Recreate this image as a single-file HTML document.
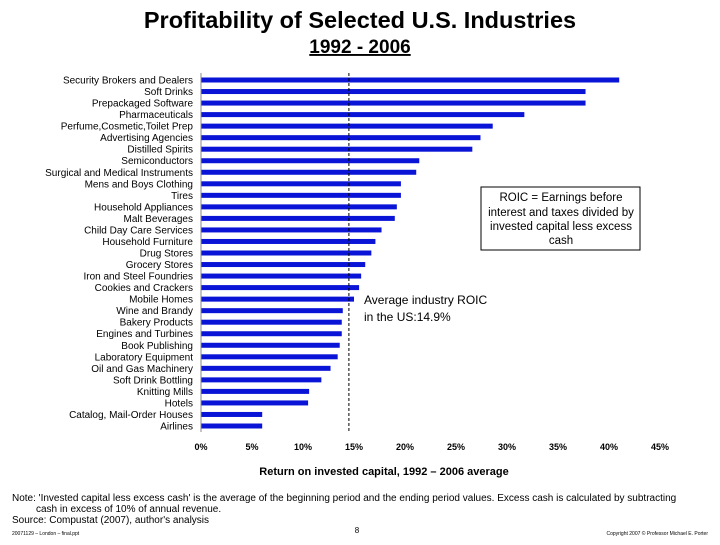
<!DOCTYPE html>
<html><head><meta charset="utf-8"><style>
body{margin:0;background:#fff;width:720px;height:540px;overflow:hidden;font-family:"Liberation Sans",sans-serif}
</style></head><body>
<svg width="720" height="540" font-family="Liberation Sans, sans-serif">
<text x="360" y="28" text-anchor="middle" font-size="23.5" font-weight="bold">Profitability of Selected U.S. Industries</text>
<text x="360" y="53" text-anchor="middle" font-size="19" font-weight="bold" text-decoration="underline">1992 - 2006</text>
<g id="bars"></g>
<g id="ylabels" font-size="10" text-anchor="end"></g>
<g id="xticks" font-size="9" font-weight="bold" text-anchor="middle"></g>
<line x1="201" y1="73" x2="201" y2="432" stroke="#888"/>
<line id="avg" y1="73" y2="432" stroke="#000" stroke-dasharray="3,2"/>
<rect x="481" y="187" width="159" height="63" fill="#fff" stroke="#000"/>
<g font-size="11.5" text-anchor="middle">
<text x="561" y="201">ROIC = Earnings before</text>
<text x="561" y="216">interest and taxes divided by</text>
<text x="561" y="230">invested capital less excess</text>
<text x="561" y="244">cash</text></g>
<g font-size="12"><text x="364" y="304">Average industry ROIC</text><text x="364" y="321">in the US:14.9%</text></g>
<text x="384" y="475" text-anchor="middle" font-size="11" font-weight="bold">Return on invested capital, 1992 – 2006 average</text>
<g font-size="10">
<text x="12" y="501">Note: 'Invested capital less excess cash' is the average of the beginning period and the ending period values.  Excess cash is calculated by subtracting</text>
<text x="36" y="512">cash in excess of 10% of annual revenue.</text>
<text x="12" y="523">Source: Compustat (2007), author's analysis</text></g>
<text x="12" y="535" font-size="5">20071129 – London – final.ppt</text>
<text x="357" y="533" font-size="8" text-anchor="middle">8</text>
<text x="708" y="535" font-size="5" text-anchor="end">Copyright 2007 © Professor Michael E. Porter</text>
</svg>
<script>
const categories=["Security Brokers and Dealers","Soft Drinks","Prepackaged Software","Pharmaceuticals","Perfume,Cosmetic,Toilet Prep","Advertising Agencies","Distilled Spirits","Semiconductors","Surgical and Medical Instruments","Mens and Boys Clothing","Tires","Household Appliances","Malt Beverages","Child Day Care Services","Household Furniture","Drug Stores","Grocery Stores","Iron and Steel Foundries","Cookies and Crackers","Mobile Homes","Wine and Brandy","Bakery Products","Engines and Turbines","Book Publishing","Laboratory Equipment","Oil and Gas Machinery","Soft Drink Bottling","Knitting Mills","Hotels","Catalog, Mail-Order Houses","Airlines"];
const roic=[41.0,37.7,37.7,31.7,28.6,27.4,26.6,21.4,21.1,19.6,19.6,19.2,19.0,17.7,17.1,16.7,16.1,15.7,15.5,15.0,13.9,13.8,13.8,13.6,13.4,12.7,11.8,10.6,10.5,6.0,6.0];
const xTicks=[0,5,10,15,20,25,30,35,40,45];
const xTickLabels=["0%","5%","10%","15%","20%","25%","30%","35%","40%","45%"];
const average=14.5;
const NS="http://www.w3.org/2000/svg";
const x=v=>201+v*10.2;
const y=i=>80+i*(346/(categories.length-1));
const bars=document.getElementById('bars'),yl=document.getElementById('ylabels'),xt=document.getElementById('xticks');
categories.forEach((c,i)=>{
 const r=document.createElementNS(NS,'rect');
 r.setAttribute('x',x(0));r.setAttribute('y',y(i)-2.5);r.setAttribute('width',x(roic[i])-x(0));r.setAttribute('height',5);r.setAttribute('fill','#0a14d6');
 
 
 bars.appendChild(r);
 const t=document.createElementNS(NS,'text');
 t.setAttribute('x',193);t.setAttribute('y',y(i)+3.5);t.textContent=c;
 
 
 yl.appendChild(t);
});
xTicks.forEach((v,i)=>{
 const t=document.createElementNS(NS,'text');
 t.setAttribute('x',x(v));t.setAttribute('y',450);t.textContent=xTickLabels[i];
 
 
 xt.appendChild(t);
});
const a=document.getElementById('avg');a.setAttribute('x1',x(average));a.setAttribute('x2',x(average));
</script>
</body></html>
